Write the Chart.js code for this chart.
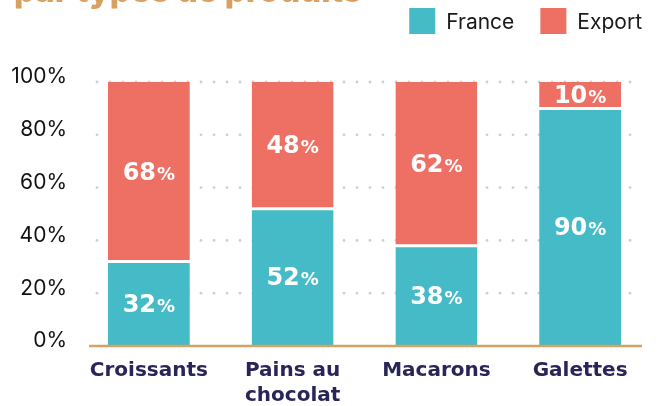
<!DOCTYPE html>
<html>
<head>
<meta charset="utf-8">
<script src="https://cdn.jsdelivr.net/npm/chart.js@4"></script>
<style>
  html, body { margin: 0; padding: 0; background: #fff; }
  #wrap { position: relative; width: 659px; height: 406px; overflow: hidden; }
  #title {
    position: absolute; left: 14px; top: -26px; margin: 0;
    font: 800 33px/1 Inter, sans-serif; color: #D9A062; white-space: nowrap;
  }
</style>
</head>
<body>
<div id="wrap">
  <h1 id="title">par types de produits</h1>
  <canvas id="ventes" width="659" height="406"></canvas>
</div>
<script>
// data
const categories = ['Croissants', ['Pains au', 'chocolat'], 'Macarons', 'Galettes'];
const france = [32, 52, 38, 90];
const exportShare = [68, 48, 62, 10];
const yTicks = [0, 20, 40, 60, 80, 100];

const TEAL = '#44BBC6';
const CORAL = '#EE7065';
const TAN = '#D9A062';
const NAVY = '#2A2559';
const BOLD = '"DejaVu Sans", sans-serif';

// dotted horizontal guides, drawn under the bars
const dotGrid = {
  id: 'dotGrid',
  beforeDatasetsDraw(chart){
    const {ctx, chartArea, scales: {y}} = chart;
    ctx.save();
    ctx.fillStyle = '#cfcfcf';
    yTicks.forEach(v => {
      if(v === 0) return;
      const py = y.getPixelForValue(v);
      for(let x = chartArea.left + 20; x <= chartArea.right - 14; x += 13){
        ctx.beginPath();
        ctx.arc(x, py, 1.4, 0, Math.PI * 2);
        ctx.fill();
      }
    });
    ctx.restore();
  }
};

// tan base line + white value labels
const overlay = {
  id: 'overlay',
  afterDatasetsDraw(chart){
    const {ctx, chartArea, scales: {y}} = chart;
    ctx.save();
    const y0 = y.getPixelForValue(0);
    ctx.strokeStyle = TAN;
    ctx.lineWidth = 2.5;
    ctx.beginPath();
    ctx.moveTo(chartArea.left + 12, y0);
    ctx.lineTo(chartArea.right - 10, y0);
    ctx.stroke();

    ctx.fillStyle = '#fff';
    ctx.textBaseline = 'alphabetic';
    ctx.textAlign = 'left';
    const numFont = 'bold 24px ' + BOLD;
    const pctFont = 'bold 18px ' + BOLD;
    chart.data.datasets.forEach((ds, i) => {
      chart.getDatasetMeta(i).data.forEach((bar, j) => {
        const {x, y: top, base} = bar.getProps(['x', 'y', 'base'], true);
        const cy = (top + base) / 2;
        const num = String(ds.data[j]);
        ctx.font = numFont;
        const wNum = ctx.measureText(num).width;
        ctx.font = pctFont;
        const wPct = ctx.measureText('%').width;
        const start = x - (wNum + wPct + 1) / 2;
        ctx.font = numFont;
        ctx.fillText(num, start, cy + 8);
        ctx.font = pctFont;
        ctx.fillText('%', start + wNum + 1, cy + 8);
      });
    });
    ctx.restore();
  }
};

// legend at the top right
const topLegend = {
  id: 'topLegend',
  afterDraw(chart){
    const {ctx, chartArea} = chart;
    ctx.save();
    ctx.font = '400 21px Inter, sans-serif';
    ctx.textBaseline = 'middle';
    ctx.textAlign = 'left';
    let right = chartArea.right - 10;
    const items = chart.data.datasets.slice().reverse();
    items.forEach(ds => {
      const w = ctx.measureText(ds.label).width;
      const tx = right - w;
      const bx = tx - 37;
      ctx.fillStyle = ds.backgroundColor;
      ctx.fillRect(bx, 8, 26, 26);
      ctx.fillStyle = '#1a1a1a';
      ctx.fillText(ds.label, tx, 23);
      right = bx - 26;
    });
    ctx.restore();
  }
};

function initChart(){
  const canvas = document.getElementById('ventes');
  if(typeof Chart === 'undefined'){ setTimeout(initChart, 50); return; }

  new Chart(canvas.getContext('2d'), {
    type: 'bar',
    data: {
      labels: categories,
      datasets: [
        {
          label: 'France', data: france, backgroundColor: TEAL,
          borderColor: '#fff', borderWidth: {top: 1.5, left: 0, right: 0, bottom: 0},
          borderSkipped: false
        },
        {
          label: 'Export', data: exportShare, backgroundColor: CORAL,
          borderColor: '#fff', borderWidth: {top: 0, left: 0, right: 0, bottom: 1.5},
          borderSkipped: false
        }
      ]
    },
    options: {
      responsive: false,
      animation: false,
      layout: { padding: { top: 82, right: 7, left: 0, bottom: 0 } },
      datasets: { bar: { barPercentage: 0.57, categoryPercentage: 1 } },
      scales: {
        x: {
          stacked: true,
          grid: { display: false, drawTicks: false },
          border: { display: false },
          afterFit(scale){ scale.height = 60; },
          ticks: {
            padding: 12,
            color: NAVY,
            maxRotation: 0,
            autoSkip: false,
            font: { family: BOLD, weight: 'bold', size: 20, lineHeight: 1.25 }
          }
        },
        y: {
          stacked: true,
          min: 0, max: 100,
          grid: { display: false, drawTicks: false },
          border: { display: false },
          afterFit(scale){ scale.width = 77; },
          afterBuildTicks(scale){ scale.ticks = yTicks.map(v => ({value: v})); },
          ticks: {
            padding: 10,
            labelOffset: -5,
            color: '#111',
            font: { family: 'Inter', size: 21 },
            callback: v => v + '%'
          }
        }
      },
      plugins: {
        legend: { display: false },
        tooltip: { enabled: false }
      }
    },
    plugins: [dotGrid, overlay, topLegend]
  });
}

if(document.readyState === 'loading'){
  document.addEventListener('DOMContentLoaded', initChart);
} else {
  initChart();
}
</script>
</body>
</html>
